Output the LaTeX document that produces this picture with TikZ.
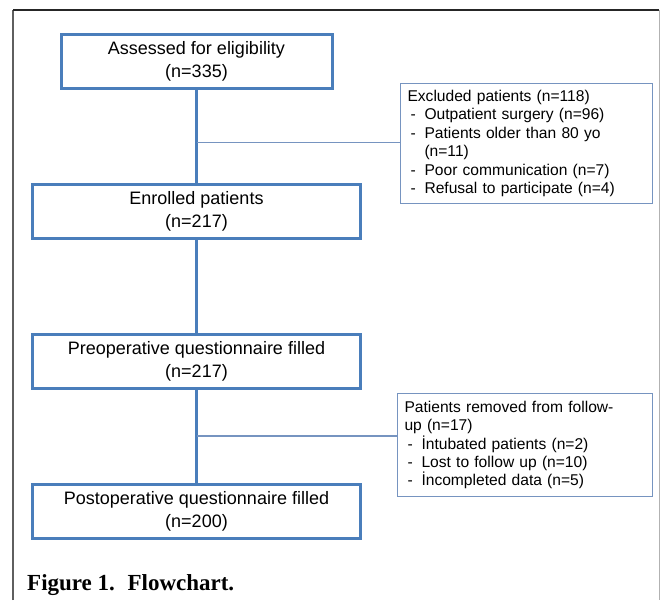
\documentclass[tikz,border=0pt]{standalone}
\usepackage{fontspec}
\setmainfont{Liberation Sans}
\newfontfamily\capfont{Liberation Serif}
\usepackage{tikz}
\usetikzlibrary{positioning, calc}
\definecolor{boxblue}{RGB}{74,126,187}
\definecolor{thinblue}{RGB}{118,148,192}
\definecolor{framegray}{RGB}{95,95,95}
\tikzset{%
	stage/.style={draw=boxblue, line width=3pt, rectangle, minimum width=328pt,%
		minimum height=54pt, inner sep=0pt, align=center, font=\fontsize{18}{22.7}\selectfont},
	sidebox/.style={draw=thinblue, line width=1pt, rectangle, anchor=north west,%
		inner xsep=7pt, inner ysep=0pt, align=left, font=\fontsize{15.6}{18.4}\selectfont},
	connector/.style={draw=boxblue, line width=3pt},
	branch/.style={draw=thinblue, line width=1.2pt},
	caption/.style={anchor=base west, inner sep=0pt, font=\capfont\bfseries\fontsize{23}{27}\selectfont}
}
\newcommand{\dashitem}[1]{\makebox[17pt][l]{\hspace{3pt}-}#1}

\begin{document}
\begin{tikzpicture}[x=1pt, y=-1pt, node distance=93pt]
	\useasboundingbox (0,0) rectangle (660,600);
	\draw[framegray, line width=1.6pt] (13,600) -- (13,10);
	\draw[black!85, line width=1.6pt] (13,10) -- (659,10);
	\draw[black!30, line width=1pt] (659,10) -- (659,600);

	\node[stage, minimum width=271pt] (assess) at (196.5,61) {Assessed for eligibility\\(n=335)};
	\node[stage] (enrol)  [below=of assess] {Enrolled patients\\(n=217)};
	\node[stage] (preop)  [below=of enrol]  {Preoperative questionnaire filled\\(n=217)};
	\node[stage] (postop) [below=of preop]  {Postoperative questionnaire filled\\(n=200)};

	\node[sidebox, text width=238pt, minimum height=120pt] (excluded) at (400,83)
		{Excluded patients (n=118)\\
		\dashitem{Outpatient surgery (n=96)}\\
		\dashitem{Patients older than 80 yo}\\
		\hspace*{17pt}(n=11)\\
		\dashitem{Poor communication (n=7)}\\
		\dashitem{Refusal to participate (n=4)}};
	\node[sidebox, text width=241pt, minimum height=103pt] (removed) at (397,393)
		{Patients removed from follow-\\
		up (n=17)\\
		\dashitem{İntubated patients (n=2)}\\
		\dashitem{Lost to follow up (n=10)}\\
		\dashitem{İncompleted data (n=5)}};

	\coordinate (split1) at ($(assess.south)!0.57!(enrol.north)$);
	\coordinate (split2) at ($(preop.south)!0.5!(postop.north)$);

	\draw [connector] (assess) -- (enrol);
	\draw [connector] (enrol) -- (preop);
	\draw [connector] (preop) -- (postop);
	\draw [branch] (split1) -- (split1 -| excluded.west);
	\draw [branch] (split2) -- (split2 -| removed.west);

	\node[caption] (cap) at (27,590) {Figure 1.\hspace{0.55em}Flowchart.};
\end{tikzpicture}
\end{document}
